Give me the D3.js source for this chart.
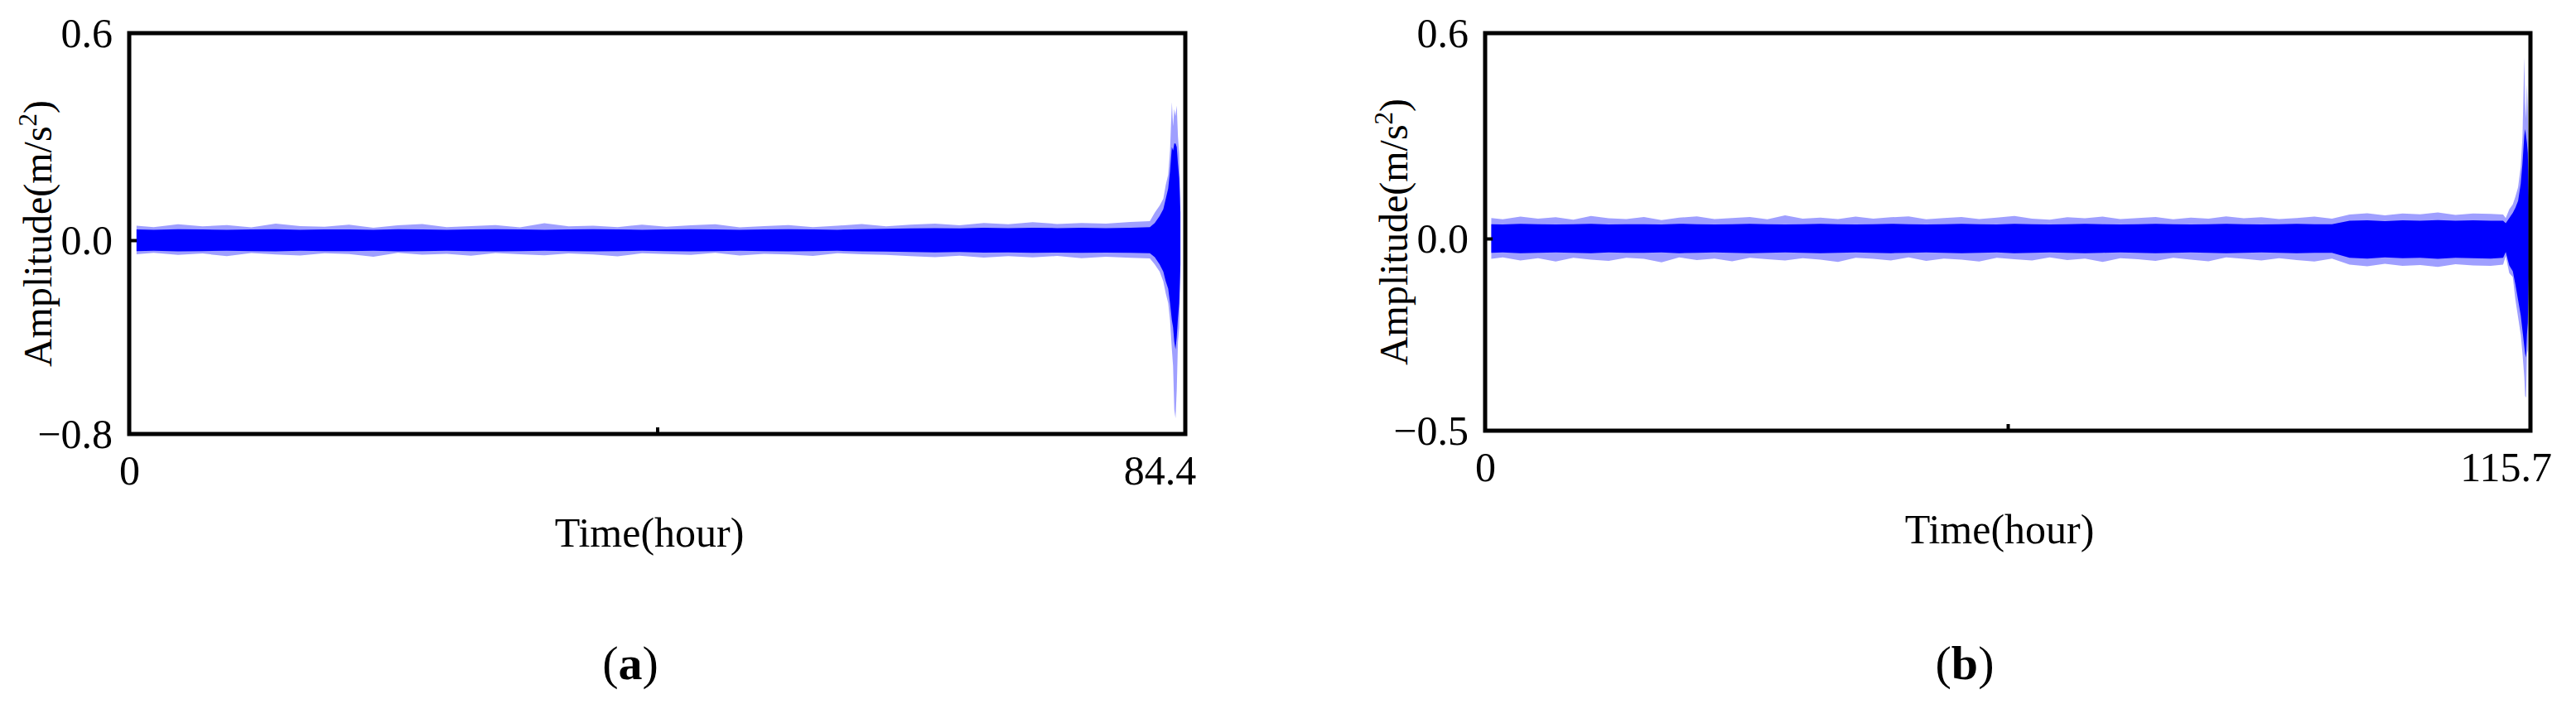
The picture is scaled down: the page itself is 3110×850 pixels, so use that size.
<!DOCTYPE html>
<html><head><meta charset="utf-8">
<script src="https://cdn.jsdelivr.net/npm/d3@7"></script>
<style>html,body{margin:0;padding:0;background:#fff;}svg{display:block;}</style>
</head><body>
<svg id="chart" width="3110" height="850"></svg>
<script>
// ---------- Panel (a) data ----------
const hoursA = [0.6,2,4,6,8,10,12,14,16,18,20,22,24,26,28,30,32,34,36,38,40,42,44,46,48,50,52,54,56,58,60,62,64,66,68,70,72,74,76,78,80,82,
  83.6,84.0,84.4,84.7,84.9,85.1,85.25,85.4,85.5,85.6,85.7,85.8,85.9,86.0,86.1];
const peakHighA = [0.042,0.038,0.046,0.040,0.044,0.037,0.048,0.041,0.039,0.045,
  0.036,0.043,0.047,0.038,0.041,0.044,0.037,0.049,0.040,0.042,
  0.038,0.045,0.039,0.043,0.046,0.037,0.041,0.044,0.038,0.042,
  0.047,0.040,0.045,0.048,0.043,0.050,0.046,0.052,0.047,0.050,
  0.048,0.053,
  0.055,0.08,0.10,0.12,0.16,0.19,0.26,0.40,0.33,0.38,0.36,0.39,0.30,0.25,0.12];
const peakLowA = [-0.058,-0.052,-0.061,-0.055,-0.066,-0.053,-0.059,-0.063,-0.054,-0.057,
  -0.068,-0.052,-0.060,-0.056,-0.064,-0.053,-0.058,-0.062,-0.055,-0.059,
  -0.067,-0.054,-0.057,-0.061,-0.052,-0.063,-0.056,-0.059,-0.065,-0.054,
  -0.058,-0.061,-0.066,-0.070,-0.064,-0.072,-0.066,-0.071,-0.065,-0.074,
  -0.068,-0.073,
  -0.075,-0.10,-0.13,-0.17,-0.22,-0.26,-0.33,-0.45,-0.52,-0.70,-0.735,-0.62,-0.42,-0.36,-0.15];
const coreHighA = [0.031,0.030,0.032,0.031,0.030,0.031,0.032,0.030,0.031,0.031,
  0.030,0.032,0.031,0.030,0.031,0.032,0.031,0.030,0.031,0.032,
  0.031,0.030,0.031,0.032,0.031,0.030,0.031,0.032,0.031,0.030,
  0.032,0.033,0.034,0.035,0.034,0.036,0.035,0.036,0.035,0.036,
  0.035,0.036,
  0.038,0.05,0.07,0.09,0.12,0.15,0.20,0.27,0.26,0.28,0.28,0.27,0.22,0.18,0.08];
const coreLowA = [-0.045,-0.044,-0.046,-0.045,-0.044,-0.045,-0.046,-0.044,-0.045,-0.045,
  -0.044,-0.046,-0.045,-0.044,-0.045,-0.046,-0.045,-0.044,-0.045,-0.046,
  -0.045,-0.044,-0.045,-0.046,-0.045,-0.044,-0.045,-0.046,-0.045,-0.044,
  -0.046,-0.047,-0.049,-0.050,-0.049,-0.051,-0.050,-0.052,-0.051,-0.052,
  -0.051,-0.052,
  -0.054,-0.07,-0.10,-0.13,-0.17,-0.20,-0.26,-0.33,-0.36,-0.42,-0.45,-0.40,-0.32,-0.26,-0.1];
const yTicksA = [-0.8, 0, 0.6];
const xLabelsA = [0, 84.4];
const xMaxA = 86.5;

// ---------- Panel (b) data ----------
const hoursB = [0.7,2,4,6,8,10,12,14,16,18,20,22,24,26,28,30,32,34,36,38,40,42,44,46,48,50,52,54,56,58,60,62,64,66,68,70,72,74,76,78,80,82,84,86,88,90,92,94,96,
  98,100,102,104,106,108,110,112,114,115.4,
  115.7,116.1,116.5,116.8,117.1,117.4,117.6,117.8,117.9,118.0,118.1,118.2,118.3];
const peakHighB = [0.060,0.056,0.064,0.058,0.062,0.055,0.066,0.059,0.057,0.063,
  0.054,0.061,0.065,0.057,0.060,0.063,0.056,0.068,0.058,0.061,
  0.057,0.064,0.058,0.062,0.065,0.056,0.060,0.063,0.057,0.061,
  0.066,0.058,0.055,0.062,0.059,0.064,0.057,0.060,0.063,0.056,
  0.061,0.058,0.065,0.059,0.062,0.057,0.060,0.064,0.058,
  0.070,0.074,0.068,0.073,0.071,0.076,0.069,0.073,0.072,0.070,
  0.060,0.085,0.10,0.123,0.15,0.21,0.30,0.53,0.40,0.35,0.45,0.37,0.20];
const peakLowB = [-0.053,-0.049,-0.057,-0.051,-0.060,-0.050,-0.055,-0.058,-0.050,-0.053,
  -0.062,-0.049,-0.056,-0.052,-0.059,-0.050,-0.054,-0.057,-0.051,-0.055,
  -0.061,-0.050,-0.053,-0.057,-0.049,-0.058,-0.052,-0.055,-0.060,-0.050,
  -0.054,-0.057,-0.049,-0.056,-0.052,-0.061,-0.051,-0.054,-0.058,-0.050,
  -0.055,-0.059,-0.049,-0.053,-0.057,-0.051,-0.056,-0.060,-0.052,
  -0.068,-0.072,-0.066,-0.071,-0.069,-0.074,-0.067,-0.070,-0.071,-0.068,
  -0.045,-0.09,-0.10,-0.16,-0.205,-0.25,-0.30,-0.36,-0.41,-0.414,-0.30,-0.29,-0.15];
const coreHighB = [0.042,0.041,0.043,0.042,0.041,0.042,0.043,0.041,0.042,0.042,
  0.041,0.043,0.042,0.041,0.042,0.043,0.042,0.041,0.042,0.043,
  0.042,0.041,0.042,0.043,0.042,0.041,0.042,0.043,0.042,0.041,
  0.043,0.042,0.041,0.042,0.043,0.042,0.041,0.042,0.043,0.042,
  0.041,0.042,0.043,0.042,0.041,0.042,0.043,0.042,0.042,
  0.052,0.053,0.051,0.053,0.052,0.054,0.052,0.053,0.052,0.052,
  0.045,0.06,0.075,0.09,0.11,0.16,0.22,0.30,0.32,0.30,0.28,0.25,0.12];
const coreLowB = [-0.037,-0.036,-0.038,-0.037,-0.036,-0.037,-0.038,-0.036,-0.037,-0.037,
  -0.036,-0.038,-0.037,-0.036,-0.037,-0.038,-0.037,-0.036,-0.037,-0.038,
  -0.037,-0.036,-0.037,-0.038,-0.037,-0.036,-0.037,-0.038,-0.037,-0.036,
  -0.038,-0.037,-0.036,-0.037,-0.038,-0.037,-0.036,-0.037,-0.038,-0.037,
  -0.036,-0.037,-0.038,-0.037,-0.036,-0.037,-0.038,-0.037,-0.037,
  -0.050,-0.052,-0.049,-0.051,-0.050,-0.053,-0.050,-0.051,-0.052,-0.050,
  -0.035,-0.07,-0.085,-0.12,-0.16,-0.20,-0.24,-0.28,-0.30,-0.31,-0.25,-0.22,-0.1];
const yTicksB = [-0.5, 0, 0.6];
const xLabelsB = [0, 115.7];
const xMaxB = 118.5;

const xTitle = "Time(hour)";
const yTitle = "Amplitude(m/s";

// ---------- Drawing ----------
const FONT = '"Liberation Serif","Times New Roman",Times,serif';
const svg = d3.select("#chart").style("font-family", FONT);

function drawPanel(id, cfg) {
  const n = Math.min(cfg.hours.length, cfg.peakHigh.length, cfg.peakLow.length, cfg.coreHigh.length, cfg.coreLow.length);
  const rows = d3.range(n).map(i => ({t: cfg.hours[i], ph: cfg.peakHigh[i], pl: cfg.peakLow[i], ch: cfg.coreHigh[i], cl: cfg.coreLow[i]}));

  const x = d3.scaleLinear().domain([0, cfg.xMax]).range([cfg.left, cfg.right]);
  const y = d3.scaleLinear().domain(cfg.yTicks).range([cfg.bottom, cfg.zeroY, cfg.top]);
  const g = svg.append("g");

  g.append("clipPath").attr("id", "clip" + id).append("rect")
    .attr("x", cfg.left).attr("y", cfg.top).attr("width", cfg.right - cfg.left).attr("height", cfg.bottom - cfg.top);

  const data = g.append("g").attr("clip-path", `url(#clip${id})`);
  data.append("path").datum(rows)
    .attr("d", d3.area().x(d => x(d.t)).y0(d => y(d.pl)).y1(d => y(d.ph)))
    .attr("fill", "#2a2aff").attr("fill-opacity", 0.45);
  data.append("path").datum(rows)
    .attr("d", d3.area().x(d => x(d.t)).y0(d => y(d.cl)).y1(d => y(d.ch)))
    .attr("fill", "#0000ff");

  // frame
  g.append("rect").attr("x", cfg.left).attr("y", cfg.top)
    .attr("width", cfg.right - cfg.left).attr("height", cfg.bottom - cfg.top)
    .attr("fill", "none").attr("stroke", "#000").attr("stroke-width", 5);

  // x labels
  const fmt = d => d === 0 ? "0" : d3.format(".1f")(d);
  const xl = g.append("g").attr("transform", `translate(0,${cfg.bottom})`)
    .call(d3.axisBottom(x).tickValues(cfg.xLabels).tickSize(0).tickPadding(25).tickFormat(fmt));
  xl.select(".domain").remove();
  xl.selectAll("text").attr("font-size", 50).attr("font-family", FONT).attr("fill", "#000");

  // middle inward x tick
  const xm = g.append("g").attr("transform", `translate(0,${cfg.bottom})`)
    .call(d3.axisBottom(x).tickValues([cfg.xMax / 2]).tickSizeInner(-8).tickSizeOuter(0).tickFormat(""));
  xm.select(".domain").remove();
  xm.selectAll("line").attr("stroke", "#000").attr("stroke-width", 4);

  // y labels
  const yl = g.append("g").attr("transform", `translate(${cfg.left},0)`)
    .call(d3.axisLeft(y).tickValues(cfg.yTicks).tickSize(0).tickPadding(20).tickFormat(d3.format(".1f")));
  yl.select(".domain").remove();
  yl.selectAll("text").attr("font-size", 50).attr("font-family", FONT).attr("fill", "#000");

  // zero inward y tick
  const ym = g.append("g").attr("transform", `translate(${cfg.left},0)`)
    .call(d3.axisLeft(y).tickValues([0]).tickSizeInner(-9).tickSizeOuter(0).tickFormat(""));
  ym.select(".domain").remove();
  ym.selectAll("line").attr("stroke", "#000").attr("stroke-width", 4);

  // axis titles
  const yt = g.append("text")
    .attr("transform", `translate(${cfg.yTitleX},${(cfg.top + cfg.bottom) / 2}) rotate(-90)`)
    .attr("text-anchor", "middle").attr("font-size", 48).attr("fill", "#000");
  yt.append("tspan").text(yTitle);
  yt.append("tspan").attr("font-size", 31).attr("dy", -18).text("2");
  yt.append("tspan").attr("dy", 18).text(")");

  g.append("text").attr("x", cfg.xTitleX).attr("y", cfg.xTitleY)
    .attr("text-anchor", "middle").attr("font-size", 50).attr("fill", "#000").text(xTitle);

  const pl = g.append("text").attr("x", cfg.tagX).attr("y", 820)
    .attr("text-anchor", "middle").attr("font-size", 58).attr("fill", "#000");
  pl.append("tspan").text("(");
  pl.append("tspan").attr("font-weight", "bold").text(cfg.tag);
  pl.append("tspan").text(")");
}

drawPanel("A", {hours: hoursA, peakHigh: peakHighA, peakLow: peakLowA, coreHigh: coreHighA, coreLow: coreLowA,
  yTicks: yTicksA, xLabels: xLabelsA, xMax: xMaxA,
  left: 156, right: 1431, top: 40, bottom: 524, zeroY: 290,
  yTitleX: 62, xTitleX: 784, xTitleY: 660, tagX: 761, tag: "a"});
drawPanel("B", {hours: hoursB, peakHigh: peakHighB, peakLow: peakLowB, coreHigh: coreHighB, coreLow: coreLowB,
  yTicks: yTicksB, xLabels: xLabelsB, xMax: xMaxB,
  left: 1793, right: 3055, top: 40, bottom: 520, zeroY: 288,
  yTitleX: 1699, xTitleX: 2414, xTitleY: 656, tagX: 2372, tag: "b"});
</script>
</body></html>
